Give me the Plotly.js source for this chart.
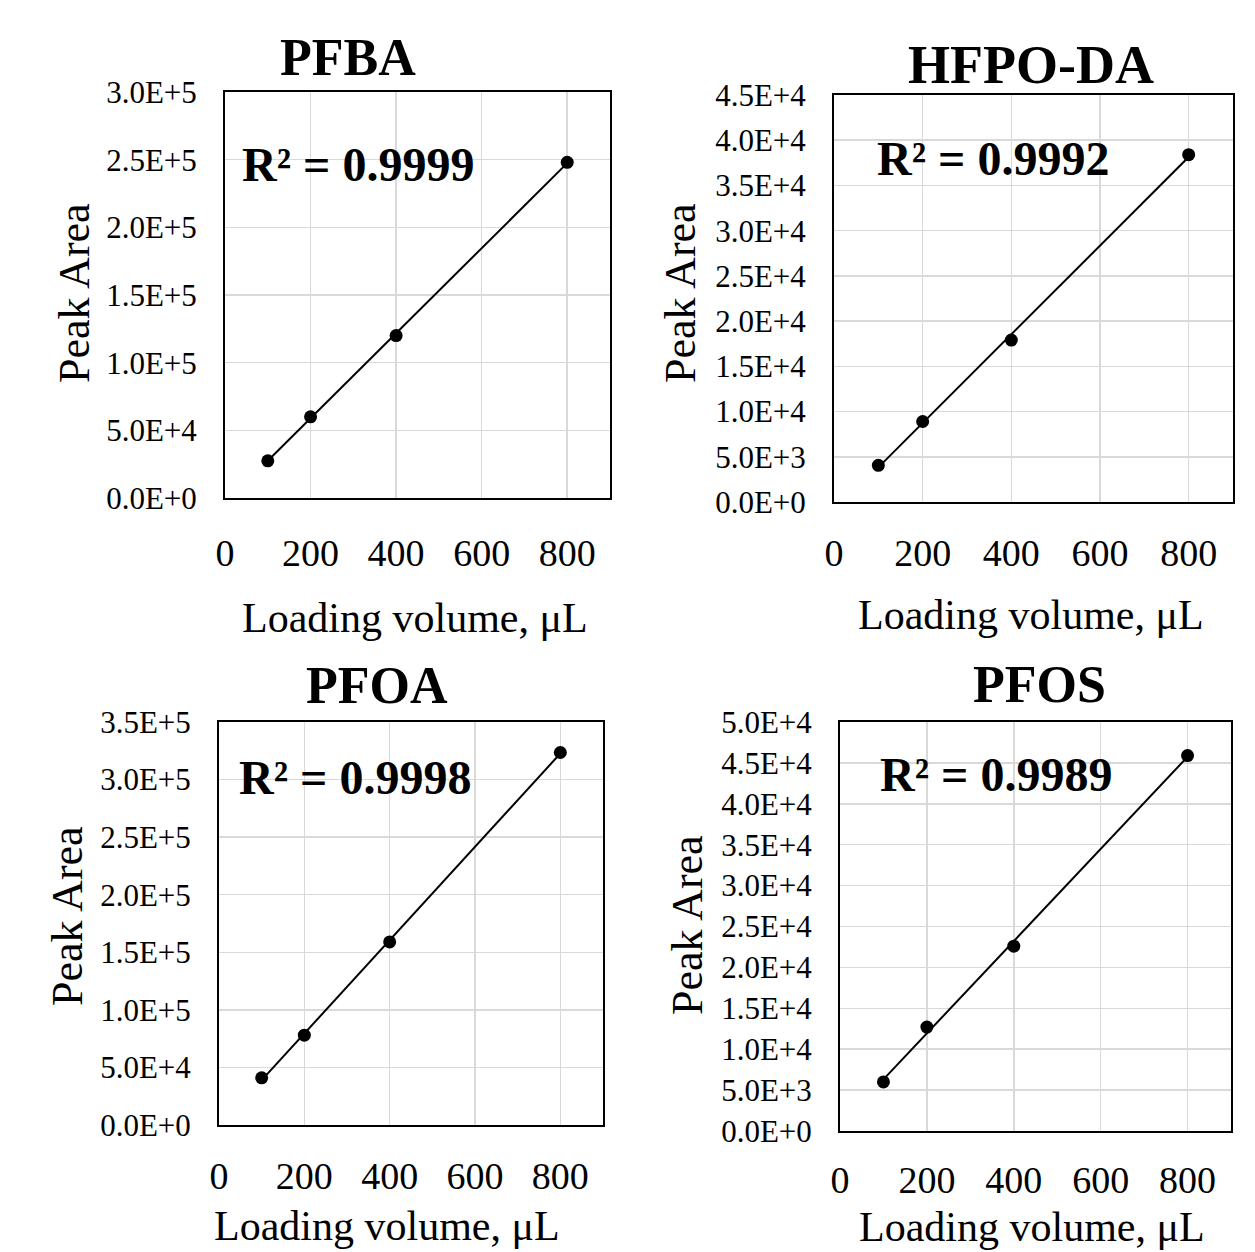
<!DOCTYPE html>
<html>
<head>
<meta charset="utf-8">
<script src="https://cdn.plot.ly/plotly-3.0.1.min.js"></script>
<style>html,body{margin:0;padding:0;background:#fff;}#chart{width:1255px;height:1252px;}</style>
</head>
<body>
<div id="chart"></div>
<script>
// ---- data ----
const volumes = [100, 200, 400, 800];           // Loading volume, µL
const pfba  = [27500, 60000, 120000, 248000];
const hfpoda = [4050, 8900, 17900, 38400];
const pfoa  = [41000, 78000, 159000, 323500];
const pfos  = [6000, 12700, 22600, 45900];

const panelNames = ["PFBA", "HFPO-DA", "PFOA", "PFOS"];
const r2Labels = ["R² = 0.9999", "R² = 0.9992", "R² = 0.9998", "R² = 0.9989"];

const xTickVals = [0, 200, 400, 600, 800];
const xTickText = ["0", "200", "400", "600", "800"];

const yTickValsPFBA = [0, 50000, 100000, 150000, 200000, 250000, 300000];
const yTickTextPFBA = ["0.0E+0","5.0E+4","1.0E+5","1.5E+5","2.0E+5","2.5E+5","3.0E+5"];
const yTickValsHFPO = [0, 5000, 10000, 15000, 20000, 25000, 30000, 35000, 40000, 45000];
const yTickTextHFPO = ["0.0E+0","5.0E+3","1.0E+4","1.5E+4","2.0E+4","2.5E+4","3.0E+4","3.5E+4","4.0E+4","4.5E+4"];
const yTickValsPFOA = [0, 50000, 100000, 150000, 200000, 250000, 300000, 350000];
const yTickTextPFOA = ["0.0E+0","5.0E+4","1.0E+5","1.5E+5","2.0E+5","2.5E+5","3.0E+5","3.5E+5"];
const yTickValsPFOS = [0, 5000, 10000, 15000, 20000, 25000, 30000, 35000, 40000, 45000, 50000];
const yTickTextPFOS = ["0.0E+0","5.0E+3","1.0E+4","1.5E+4","2.0E+4","2.5E+4","3.0E+4","3.5E+4","4.0E+4","4.5E+4","5.0E+4"];

const xTitle = "Loading volume, μL";
const yTitle = "Peak Area";

// ---- layout helpers ----
const W = 1255, H = 1252;
const px = v => v / W;
const py = v => 1 - v / H;
const FONT = "'Liberation Serif', 'Times New Roman', Times, serif";

function fit(xs, ys) {
  const n = xs.length;
  const mx = xs.reduce((a,b)=>a+b,0)/n, my = ys.reduce((a,b)=>a+b,0)/n;
  let sxy = 0, sxx = 0;
  for (let i = 0; i < n; i++) { sxy += (xs[i]-mx)*(ys[i]-my); sxx += (xs[i]-mx)*(xs[i]-mx); }
  const m = sxy / sxx, b = my - m*mx;
  const x0 = Math.min(...xs), x1 = Math.max(...xs);
  return { x: [x0, x1], y: [m*x0 + b, m*x1 + b] };
}

const panels = [
  { ys: pfba,   tv: yTickValsPFBA, tt: yTickTextPFBA, ymax: 300000, box: [225, 610, 92, 498],
    title: [348, 57], tsize: 52, r2: [240, 164], ytitle: [74, 293], xtitle: [415, 618], xs: 20 },
  { ys: hfpoda, tv: yTickValsHFPO, tt: yTickTextHFPO, ymax: 45000,  box: [834, 1233, 95, 502],
    title: [1031, 65], tsize: 54, r2: [875, 158], ytitle: [680, 293], xtitle: [1031, 615], xs: 16 },
  { ys: pfoa,   tv: yTickValsPFOA, tt: yTickTextPFOA, ymax: 350000, box: [219, 603, 722, 1125],
    title: [377, 685], tsize: 52, r2: [237, 777], ytitle: [67, 916], xtitle: [387, 1226], xs: 16 },
  { ys: pfos,   tv: yTickValsPFOS, tt: yTickTextPFOS, ymax: 50000,  box: [840, 1231, 722, 1131],
    title: [1039, 684], tsize: 52, r2: [878, 774], ytitle: [687, 925], xtitle: [1032, 1227], xs: 14 }
];

const traces = [];
const layout = {
  width: W, height: H,
  margin: { l: 0, r: 0, t: 0, b: 0 },
  paper_bgcolor: "#ffffff",
  plot_bgcolor: "#ffffff",
  showlegend: false,
  font: { family: FONT, color: "#000000" },
  annotations: []
};

panels.forEach((p, i) => {
  const k = i === 0 ? "" : String(i + 1);
  const xa = "x" + k, ya = "y" + k;
  const tl = fit(volumes, p.ys);
  traces.push({
    x: tl.x, y: tl.y, xaxis: xa, yaxis: ya, type: "scatter", mode: "lines",
    line: { color: "#000000", width: 2 }, hoverinfo: "skip"
  });
  traces.push({
    x: volumes, y: p.ys, xaxis: xa, yaxis: ya, type: "scatter", mode: "markers",
    marker: { color: "#000000", size: 13 }, name: panelNames[i]
  });
  const [l, r, t, b] = p.box;
  layout["xaxis" + k] = {
    domain: [px(l), px(r)], anchor: ya, range: [0, 900],
    tickvals: xTickVals, ticktext: xTickText, ticks: "",
    tickfont: { family: FONT, size: 38, color: "#000" },
    ticklabelstandoff: p.xs,
    showgrid: true, gridcolor: "#d9d9d9", gridwidth: 1.5,
    zeroline: false, showline: true, mirror: true, linecolor: "#000", linewidth: 2
  };
  layout["yaxis" + k] = {
    domain: [py(b), py(t)], anchor: xa, range: [0, p.ymax],
    tickvals: p.tv, ticktext: p.tt, ticks: "",
    tickfont: { family: FONT, size: 31, color: "#000" },
    ticklabelstandoff: 20,
    showgrid: true, gridcolor: "#d9d9d9", gridwidth: 1.5,
    zeroline: false, showline: true, mirror: true, linecolor: "#000", linewidth: 2
  };
  layout.annotations.push({
    text: "<b>" + panelNames[i] + "</b>", xref: "paper", yref: "paper",
    x: px(p.title[0]), y: py(p.title[1]), xanchor: "center", yanchor: "middle",
    showarrow: false, font: { family: FONT, size: p.tsize, color: "#000" }
  });
  layout.annotations.push({
    text: "<b>" + r2Labels[i] + "</b>", xref: "paper", yref: "paper",
    x: px(p.r2[0]), y: py(p.r2[1]), xanchor: "left", yanchor: "middle",
    showarrow: false, font: { family: FONT, size: 48, color: "#000" }
  });
  layout.annotations.push({
    text: yTitle, xref: "paper", yref: "paper", textangle: -90,
    x: px(p.ytitle[0]), y: py(p.ytitle[1]), xanchor: "center", yanchor: "middle",
    showarrow: false, font: { family: FONT, size: 44, color: "#000" }
  });
  layout.annotations.push({
    text: xTitle, xref: "paper", yref: "paper",
    x: px(p.xtitle[0]), y: py(p.xtitle[1]), xanchor: "center", yanchor: "middle",
    showarrow: false, font: { family: FONT, size: 42, color: "#000" }
  });
});

Plotly.newPlot("chart", traces, layout, { displayModeBar: false, staticPlot: true });
</script>
</body>
</html>
